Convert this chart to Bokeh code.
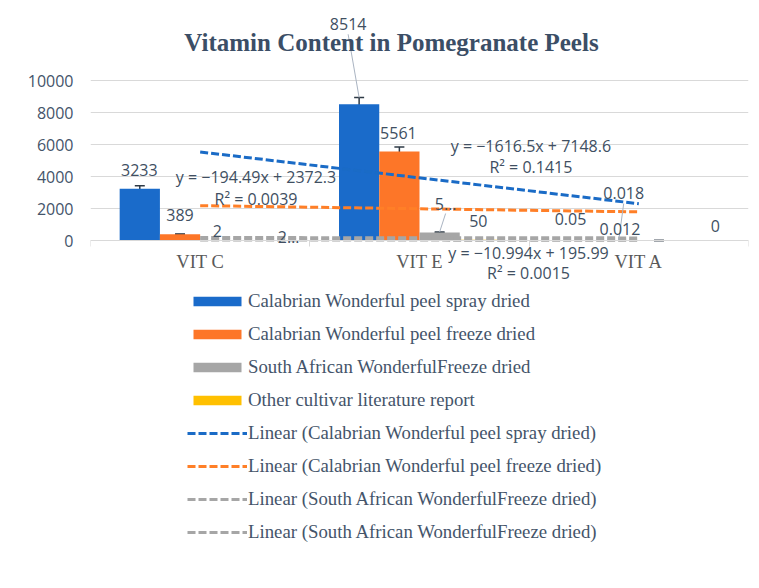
import numpy as np
from bokeh.plotting import figure
from bokeh.models import (Range1d, FixedTicker, Legend, LegendItem, ColumnDataSource,
                          Whisker, TeeHead, Label)
from bokeh.core.properties import value
from bokeh.embed import file_html
from bokeh.resources import INLINE

# ---------------- data ----------------
title_text = "Vitamin Content in Pomegranate Peels"
categories = ["VIT C", "VIT E", "VIT A"]
series_names = ["Calabrian Wonderful peel spray dried",
                "Calabrian Wonderful peel freeze dried",
                "South African WonderfulFreeze dried",
                "Other cultivar literature report"]
spray_dried = [3233, 8514, 0.05]
freeze_dried = [389, 5561, 0.018]
south_african = [22, 500, 0.012]
other_cultivar = [25, 50, 0]
spray_err = [190, 420, None]
freeze_err = [15, 290, None]
south_err = [None, 30, 0.005]
other_err = [None, None, None]
spray_labels = ["3233", "8514", "0.05"]
freeze_labels = ["389", "5561", "0.018"]
south_labels = ["2", "5…", "0.012"]
other_labels = ["2…", "50", "0"]
trend_names = ["Linear (Calabrian Wonderful peel spray dried)",
               "Linear (Calabrian Wonderful peel freeze dried)",
               "Linear (South African WonderfulFreeze dried)",
               "Linear (South African WonderfulFreeze dried)"]
trend_eqs = ["y = −1616.5x + 7148.6", "y = −194.49x + 2372.3", "y = −10.994x + 195.99", None]
trend_r2 = ["R² = 0.1415", "R² = 0.0039", "R² = 0.0015", None]
y_ticks = [0, 2000, 4000, 6000, 8000, 10000]

# ---------------- layout / style ----------------
FRAME_W, FRAME_H = 658, 533
PX_X = FRAME_W / 3.0           # px per category
PX_Y = 0.016                   # px per unit value
Y_TOP = 228 / PX_Y
Y_BOT = -(FRAME_H - 228) / PX_Y
BAR_W = 0.1835
bar_colors = ["#1A6BCA", "#FD7628", "#A6A6A6", "#FFC000"]
trend_colors = ["#1A6BC6", "#FF7F27", "#A6A6A6", "#A6A6A6"]
TEXT_C = "#404F62"
# label offsets in px (dx right, dy down) relative to bar top centre
label_off = [
    [(-0.5, -19), (-11, -80), (-8, -21)],
    [(0, -19), (-1, -19), (5, -47)],
    [(-3, -9), (6, -29), (-39, -11)],
    [(28, -3), (-1.5, -19), (16, -15)],
]
leader = [[False, True, False], [False, False, True], [False, True, False], [False, False, False]]
eq_pos = [((2.008, 5894), (2.008, 4581)),
          ((0.7546, 4000), (0.7546, 2625)),
          ((1.997, -769), (1.997, -2062)),
          None]

values = [spray_dried, freeze_dried, south_african, other_cultivar]
errors = [spray_err, freeze_err, south_err, other_err]
labels = [spray_labels, freeze_labels, south_labels, other_labels]

p = figure(frame_width=FRAME_W, frame_height=FRAME_H,
           x_range=Range1d(0, 3), y_range=Range1d(Y_BOT, Y_TOP),
           output_backend="svg", toolbar_location=None,
           min_border_left=90, min_border_right=3, min_border_top=12, min_border_bottom=0,
           outline_line_color=None, background_fill_color="white", border_fill_color="white")

# grid / axes
p.xgrid.visible = False
p.ygrid.ticker = FixedTicker(ticks=y_ticks)
p.ygrid.grid_line_color = "#D9D9D9"
p.ygrid.grid_line_width = 1

p.yaxis.ticker = FixedTicker(ticks=y_ticks)
p.yaxis.axis_line_color = None
p.yaxis.major_tick_line_color = None
p.yaxis.minor_tick_line_color = None
p.yaxis.major_tick_out = 0
p.yaxis.major_tick_in = 0
p.yaxis.major_label_standoff = 17
p.yaxis.major_label_text_font = "Open Sans"
p.yaxis.major_label_text_font_size = "16px"
p.yaxis.major_label_text_color = "#44546A"

centers = [i + 0.5 for i in range(len(categories))]
p.xaxis.ticker = FixedTicker(ticks=centers, minor_ticks=list(range(len(categories) + 1)))
p.xaxis.major_label_overrides = {c: n for c, n in zip(centers, categories)}
p.xaxis.fixed_location = 0
p.xaxis.axis_line_color = "#D9D9D9"
p.xaxis.major_tick_line_color = None
p.xaxis.major_tick_out = 0
p.xaxis.major_tick_in = 0
p.xaxis.minor_tick_line_color = "#D9D9D9"
p.xaxis.minor_tick_out = 6
p.xaxis.minor_tick_in = 0
p.xaxis.major_label_standoff = 5
p.xaxis.major_label_text_font = "Liberation Serif"
p.xaxis.major_label_text_font_size = "18.5px"
p.xaxis.major_label_text_color = "#595959"

bar_items, trend_items = [], []
xs_all = []
# bars
for k in range(4):
    off = (k - 1.5) * BAR_W
    xs = [c + off for c in centers]
    xs_all.append(xs)
    src = ColumnDataSource(dict(x=xs, top=values[k]))
    r = p.vbar(x="x", top="top", bottom=0, width=BAR_W, source=src,
               fill_color=bar_colors[k], line_color=None)
    bar_items.append(LegendItem(label=series_names[k], renderers=[r]))

    # error bars
    ex = [x for x, e in zip(xs, errors[k]) if e is not None]
    ev = [v for v, e in zip(values[k], errors[k]) if e is not None]
    ee = [e for e in errors[k] if e is not None]
    if ex:
        esrc = ColumnDataSource(dict(x=ex, lo=[v - e for v, e in zip(ev, ee)],
                                     hi=[v + e for v, e in zip(ev, ee)]))
        w = Whisker(source=esrc, base="x", lower="lo", upper="hi", dimension="height",
                    line_color="#2E3A46", line_width=1.5,
                    lower_head=TeeHead(size=10, line_color="#2E3A46", line_width=1.5),
                    upper_head=TeeHead(size=10, line_color="#2E3A46", line_width=1.5))
        p.add_layout(w)

# trendlines (linear fit on category index, as in the spreadsheet)
xfit = np.array([1.0, 2.0, 3.0])
for k in range(4):
    slope, icpt = np.polyfit(xfit, np.array(values[k], dtype=float), 1)
    tx = [centers[0], centers[-1]]
    ty = [slope * 1 + icpt, slope * 3 + icpt]
    tr = p.line(tx, ty, line_color=trend_colors[k], line_width=3, line_dash="8 3")
    trend_items.append(LegendItem(label=trend_names[k], renderers=[tr]))

# data labels, leader lines, trendline equations
for k in range(4):
    xs = xs_all[k]
    lx = [x + d[0] / PX_X for x, d in zip(xs, label_off[k])]
    ly = [v - d[1] / PX_Y for v, d in zip(values[k], label_off[k])]
    for i in range(3):
        if leader[k][i]:
            top = values[k][i] + (errors[k][i] or 0)
            p.segment(x0=lx[i], y0=ly[i] - 10 / PX_Y, x1=xs[i], y1=top,
                      line_color="#AAB4C2", line_width=1)
    p.text(x=lx, y=ly, text=labels[k], text_font=value("Open Sans"),
           text_font_size="16px", text_color=TEXT_C,
           text_align="center", text_baseline="middle")
    if trend_eqs[k] is not None:
        (ex1, ey1), (ex2, ey2) = eq_pos[k]
        p.text(x=[ex1, ex2], y=[ey1, ey2], text=[trend_eqs[k], trend_r2[k]],
               text_font=value("Open Sans"), text_font_size="16px", text_color=TEXT_C,
               text_align="center", text_baseline="middle")

# title (drawn inside the chart area, as in the reference)
p.add_layout(Label(x=(391 - 90) / PX_X, y=(240 - 42) / PX_Y, text=title_text,
                   text_font="Liberation Serif", text_font_style="bold",
                   text_font_size="25px", text_color="#3B4E66",
                   text_align="center", text_baseline="middle"))

legend = Legend(items=bar_items + trend_items, location=(97, 2), orientation="vertical",
                padding=0, margin=0, spacing=11, label_height=20, glyph_height=12,
                glyph_width=60, label_standoff=1, border_line_color=None,
                background_fill_alpha=0, label_text_font="Liberation Serif",
                label_text_font_size="18.8px", label_text_color="#44546A")
p.add_layout(legend)

open("out.html", "w").write(file_html(p, INLINE))
